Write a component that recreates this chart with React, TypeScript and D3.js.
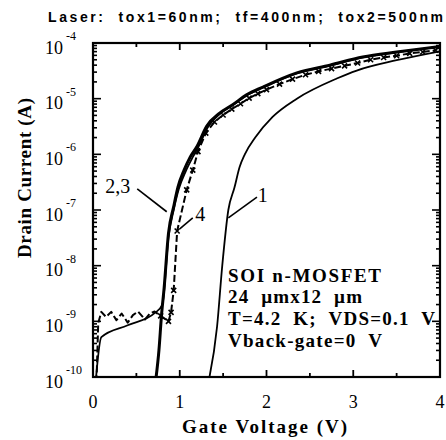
import React from "react";
import * as d3 from "d3";

// Gate voltage (V) and drain current (A) for each measured curve
const curve1V = [1.33, 1.43, 1.49, 1.56, 1.63, 1.69, 1.75, 1.87, 2.07, 2.35, 2.81, 3.04, 3.5, 4.0];
const curve1I = [8e-11, 8e-10, 1.0e-8, 1.0e-7, 2.5e-7, 5.9e-7, 1.0e-6, 2.0e-6, 4.7e-6, 1.0e-5, 2.3e-5, 3.2e-5, 4.9e-5, 7.1e-5];

const curve2V = [0.72, 0.76, 0.79, 0.82, 0.87, 0.93, 0.98, 1.05, 1.12, 1.2, 1.31, 1.46, 1.61, 1.77, 1.96, 2.35, 2.73, 3.11, 3.5, 4.0];
const curve2I = [8e-11, 3e-10, 1.3e-9, 4e-9, 3.8e-8, 1.15e-7, 2.6e-7, 5.2e-7, 8.9e-7, 1.4e-6, 3.2e-6, 5.5e-6, 7.8e-6, 1.17e-5, 1.62e-5, 2.9e-5, 4.0e-5, 5.6e-5, 6.9e-5, 8.7e-5];

const curve3V = [0.03, 0.096, 0.4, 0.71, 0.8, 0.87, 0.93, 0.99, 1.07, 1.15, 1.22, 1.32, 1.46, 1.61, 1.77, 1.96, 2.35, 2.73, 3.11, 3.5, 4.0];
const curve3I = [8e-11, 5.2e-10, 8.5e-10, 1.4e-9, 2.0e-9, 3.2e-8, 1.0e-7, 2.4e-7, 5.0e-7, 8.9e-7, 1.4e-6, 3.0e-6, 5.3e-6, 7.6e-6, 1.14e-5, 1.58e-5, 2.85e-5, 3.9e-5, 5.5e-5, 6.8e-5, 8.5e-5];

const curve4V = [0.04, 0.06, 0.096, 0.15, 0.21, 0.27, 0.33, 0.4, 0.46, 0.52, 0.6, 0.66, 0.71, 0.78, 0.87, 0.9, 0.93, 0.97, 1.08, 1.15, 1.21, 1.3, 1.4, 1.5, 1.6, 1.7, 1.8, 1.9, 2.0, 2.15, 2.3, 2.45, 2.6, 2.75, 2.9, 3.05, 3.2, 3.35, 3.5, 3.65, 3.8, 3.95];
const curve4I = [8e-11, 9.3e-10, 1.48e-9, 1.2e-9, 1.48e-9, 1.05e-9, 1.38e-9, 9.5e-10, 1.29e-9, 1.5e-9, 1.08e-9, 1.4e-9, 1.5e-9, 1.25e-9, 1.0e-9, 1.45e-9, 3.6e-9, 4.2e-8, 2.3e-7, 5.2e-7, 1.12e-6, 2.4e-6, 3.8e-6, 5.1e-6, 6.5e-6, 8.1e-6, 1.02e-5, 1.23e-5, 1.45e-5, 1.82e-5, 2.24e-5, 2.69e-5, 3.09e-5, 3.47e-5, 3.89e-5, 4.37e-5, 5.0e-5, 5.5e-5, 5.9e-5, 6.5e-5, 6.9e-5, 7.4e-5];

// Axis ticks
const xTickLabels = [0, 1, 2, 3, 4];
const xTickSteps = [0, 0.5, 1, 1.5, 2, 2.5, 3, 3.5, 4];
const yDecades = [-10, -9, -8, -7, -6, -5, -4];

// Device conditions block
const infoLines = ["SOI n-MOSFET", "24  µmx12  µm", "T=4.2  K;  VDS=0.1  V", "Vback-gate=0  V"];
const infoWidths = [153, 134, 207, 154];

const W = 446;
const H = 440;
const plot = { left: 93, right: 440, top: 43, bottom: 377 };

const serif = "'Liberation Serif', 'Times New Roman', serif";
const sans = "'Liberation Sans', Arial, sans-serif";

export default function App() {
  const x = d3.scaleLinear().domain([0, 4]).range([plot.left, plot.right]);
  const y = d3.scaleLog().domain([1e-10, 1e-4]).range([plot.bottom, plot.top]);

  const smooth = d3
    .line<[number, number]>()
    .x((d) => x(d[0]))
    .y((d) => y(d[1]))
    .curve(d3.curveMonotoneX);

  const straight = d3
    .line<[number, number]>()
    .x((d) => x(d[0]))
    .y((d) => y(d[1]))
    .curve(d3.curveLinear);

  const pts = (vs: number[], is: number[]) => vs.map((v, i) => [v, is[i]] as [number, number]);

  // minor log ticks on both vertical axes
  const minorY: number[] = [];
  for (let k = -10; k < -4; k++) {
    for (let m = 2; m <= 9; m++) minorY.push(m * Math.pow(10, k));
  }

  const markerPts = pts(curve4V, curve4I).filter((d) => d[0] >= 0.78);

  return (
    <svg
      width={W}
      height={H}
      style={{ position: "absolute", left: 0, top: 0, background: "#fff" }}
    >
      <defs>
        <clipPath id="plotClip">
          <rect x={plot.left} y={plot.top} width={plot.right - plot.left} height={plot.bottom - plot.top} />
        </clipPath>
      </defs>
      <rect x={0} y={0} width={W} height={H} fill="#fff" />

      {/* title */}
      <text
        x={48}
        y={22}
        fontFamily={sans}
        fontWeight="bold"
        fontSize={14}
        textLength={395}
        lengthAdjust="spacing"
        xmlSpace="preserve"
        style={{ whiteSpace: "pre" }}
      >
        {"Laser:  tox1=60nm;  tf=400nm;  tox2=500nm"}
      </text>

      {/* curves */}
      <g clipPath="url(#plotClip)" fill="none" stroke="#000" strokeLinejoin="round">
        <path d={smooth(pts(curve1V, curve1I)) || ""} strokeWidth={1.8} />
        <path d={smooth(pts(curve3V, curve3I)) || ""} strokeWidth={1.8} />
        <path d={smooth(pts(curve2V, curve2I)) || ""} strokeWidth={3} />
        <path d={straight(pts(curve4V, curve4I)) || ""} strokeWidth={2} strokeDasharray="7,3" />
        {markerPts.map((d, i) => {
          const cx = x(d[0]);
          const cy = y(d[1]);
          const s = 2.5;
          return (
            <path
              key={i}
              d={`M${cx - s},${cy - s}L${cx + s},${cy + s}M${cx - s},${cy + s}L${cx + s},${cy - s}`}
              strokeWidth={1.6}
            />
          );
        })}
      </g>

      {/* frame */}
      <rect
        x={plot.left}
        y={plot.top}
        width={plot.right - plot.left}
        height={plot.bottom - plot.top}
        fill="none"
        stroke="#000"
        strokeWidth={2.2}
      />

      {/* x ticks, inward on bottom and top */}
      <g stroke="#000" strokeWidth={1.8}>
        {xTickSteps.map((v) => {
          const major = Number.isInteger(v);
          const len = major ? 7 : 4;
          return (
            <g key={v}>
              <line x1={x(v)} x2={x(v)} y1={plot.bottom} y2={plot.bottom - len} />
              <line x1={x(v)} x2={x(v)} y1={plot.top} y2={plot.top + len} />
            </g>
          );
        })}
      </g>

      {/* y ticks, inward on left and right */}
      <g stroke="#000" strokeWidth={1.6}>
        {yDecades.map((k) => {
          const yy = y(Math.pow(10, k));
          return (
            <g key={k}>
              <line x1={plot.left} x2={plot.left + 8} y1={yy} y2={yy} />
              <line x1={plot.right} x2={plot.right - 8} y1={yy} y2={yy} />
            </g>
          );
        })}
        {minorY.map((v, i) => {
          const yy = y(v);
          return (
            <g key={i}>
              <line x1={plot.left} x2={plot.left + 4} y1={yy} y2={yy} />
              <line x1={plot.right} x2={plot.right - 4} y1={yy} y2={yy} />
            </g>
          );
        })}
      </g>

      {/* x tick labels */}
      <g fontFamily={serif} fontSize={18} textAnchor="middle">
        {xTickLabels.map((v) => (
          <text key={v} x={x(v)} y={408}>
            {v}
          </text>
        ))}
      </g>

      {/* y tick labels as powers of ten */}
      <g fontFamily={serif}>
        {yDecades.map((k) => {
          const yy = y(Math.pow(10, k));
          return (
            <g key={k}>
              <text x={45} y={yy + 10.5} fontSize={18}>
                10
              </text>
              <text x={66} y={yy - 3} fontSize={12}>
                {`-${-k}`}
              </text>
            </g>
          );
        })}
      </g>

      {/* axis titles */}
      <text
        x={182}
        y={433}
        fontFamily={serif}
        fontSize={19}
        fontWeight="bold"
        textLength={165}
        lengthAdjust="spacing"
      >
        Gate Voltage (V)
      </text>
      <text
        transform="translate(31,258) rotate(-90)"
        fontFamily={serif}
        fontSize={19}
        fontWeight="bold"
        textLength={160}
        lengthAdjust="spacing"
      >
        Drain Current (A)
      </text>

      {/* curve labels with leaders */}
      <g stroke="#000" strokeWidth={1.6}>
        <line x1={x(0.51)} y1={y(2.4e-7)} x2={x(0.85)} y2={y(9.3e-8)} />
        <line x1={x(1.15)} y1={y(7.2e-8)} x2={x(1.0)} y2={y(4.6e-8)} />
        <line x1={x(1.89)} y1={y(1.7e-7)} x2={x(1.56)} y2={y(7.2e-8)} />
      </g>
      <g fontFamily={serif} fontSize={20}>
        <text x={x(0.14)} y={193}>2,3</text>
        <text x={x(1.18)} y={221}>4</text>
        <text x={x(1.9)} y={202}>1</text>
      </g>

      {/* device conditions */}
      <g fontFamily={serif} fontSize={19} fontWeight="bold">
        {infoLines.map((t, i) => (
          <text
            key={i}
            x={228}
            y={281.5 + i * 21.8}
            textLength={infoWidths[i]}
            lengthAdjust="spacing"
            xmlSpace="preserve"
            style={{ whiteSpace: "pre" }}
          >
            {t}
          </text>
        ))}
      </g>
    </svg>
  );
}
